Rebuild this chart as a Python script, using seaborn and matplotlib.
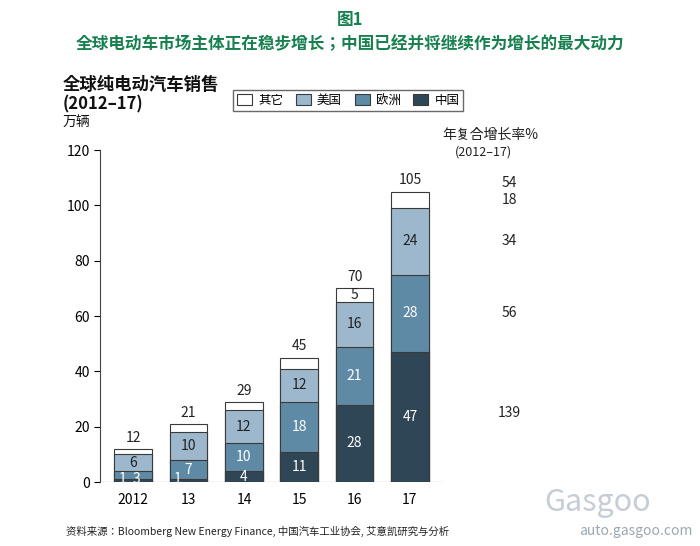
import matplotlib
matplotlib.use("Agg")
import matplotlib.pyplot as plt
from matplotlib import font_manager as fm
import seaborn as sns
import numpy as np
import pandas as pd

for f in fm.findSystemFonts():
    if "CJK" in f:
        try:
            fm.fontManager.addfont(f)
        except Exception:
            pass
names = sorted({e.name for e in fm.fontManager.ttflist if "CJK" in e.name})
fam = next((n for n in names if "SC" in n), names[0] if names else "DejaVu Sans")
plt.rcParams["font.family"] = [fam, "DejaVu Sans"]

years = ["2012", "13", "14", "15", "16", "17"]
china = [1, 1, 4, 11, 28, 47]
europe = [3, 7, 10, 18, 21, 28]
usa = [6, 10, 12, 12, 16, 24]
other = [2, 3, 3, 4, 5, 6]
other_labels = ["", "", "", "", "5", ""]
totals = [12, 21, 29, 45, 70, 105]
cagr = ["54", "18", "34", "56", "139"]
series_names = ["其它", "美国", "欧洲", "中国"]
colors = {"其它": "#ffffff", "美国": "#9db8cc", "欧洲": "#5f8aa6", "中国": "#2f4656"}

c1 = np.array(china); c2 = c1 + europe; c3 = c2 + usa; c4 = c3 + other
df = pd.DataFrame({"year": years, "中国": c1, "欧洲": c2, "美国": c3, "其它": c4})

fig = plt.figure(figsize=(7, 5.46), dpi=100)
ax = fig.add_axes([0.143, 0.117, 0.49, 0.608])
for name in series_names:
    sns.barplot(data=df, x="year", y=name, color=colors[name], ax=ax, width=0.68,
                edgecolor="#3a3a3a", linewidth=0.8, saturation=1, label=name)

for i in range(6):
    segs = [(china[i], 0, "white"), (europe[i], c1[i], "white"), (usa[i], c2[i], "#222")]
    for k, (v, b, col) in enumerate(segs):
        x = i; yv = b + v / 2
        if v <= 3:
            x = i - 0.2 if k == 0 else i + 0.05
            yv = b + 1.2
            if k == 1:
                yv = b + 0.2
        ax.text(x, yv, str(v), ha="center", va="center", fontsize=10, color=col)
    if other_labels[i]:
        ax.text(i, c3[i] + other[i] / 2, other_labels[i], ha="center", va="center", fontsize=10, color="#222")
    ax.text(i, totals[i] + 1.5, str(totals[i]), ha="center", va="bottom", fontsize=10, color="#222")

ax.set_ylim(0, 120)
ax.set_xlim(-0.6, 5.6)
ax.set_yticks(range(0, 121, 20))
ax.set_xlabel(""); ax.set_ylabel("")
for s in ["top", "right", "bottom"]:
    ax.spines[s].set_visible(False)
ax.spines["left"].set_color("#444")
ax.tick_params(axis="x", length=0, labelsize=10, pad=8)
ax.tick_params(axis="y", labelsize=10, direction="out", length=4)
ax.axhline(0, color="#444", lw=0.8)

h, l = ax.get_legend_handles_labels()
ax.legend(h, l, ncol=4, loc="upper left", bbox_to_anchor=(0.37, 1.2), frameon=True,
          edgecolor="#444", fancybox=False, fontsize=9, handlelength=1.2, handleheight=1.0,
          columnspacing=1.0, handletextpad=0.5, borderpad=0.3)

ys = [108, 102, 87, 61, 25]
for t, yv in zip(cagr, ys):
    ax.text(6.8, yv, t, ha="center", va="center", fontsize=10, color="#222", clip_on=False)
fig.text(0.632, 0.745, "年复合增长率%", fontsize=10, color="#222")
fig.text(0.65, 0.715, "(2012–17)", fontsize=9, color="#222")

fig.text(0.5, 0.955, "图1", ha="center", fontsize=12, fontweight="bold", color="#17804f")
fig.text(0.5, 0.91, "全球电动车市场主体正在稳步增长；中国已经并将继续作为增长的最大动力",
         ha="center", fontsize=12, fontweight="bold", color="#17804f")
fig.text(0.09, 0.835, "全球纯电动汽车销售", fontsize=12.5, fontweight="bold", color="#111")
fig.text(0.09, 0.8, "(2012–17)", fontsize=12, fontweight="bold", color="#111")
fig.text(0.09, 0.768, "万辆", fontsize=10, color="#111")
fig.text(0.095, 0.02, "资料来源：Bloomberg New Energy Finance, 中国汽车工业协会, 艾意凯研究与分析",
         fontsize=7.5, color="#222")
fig.text(0.99, 0.02, "auto.gasgoo.com", ha="right", fontsize=10, color="#9aa8b5")
fig.text(0.93, 0.065, "Gasgoo", ha="right", fontsize=22, style="italic", color="#c5cdd6")

fig.savefig("out.png", dpi=100)
